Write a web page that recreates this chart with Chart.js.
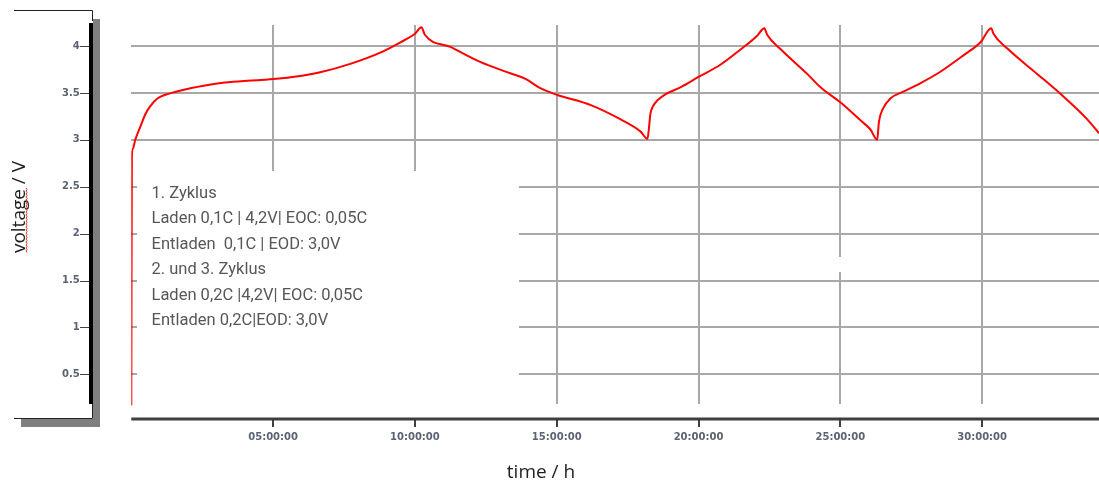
<!DOCTYPE html>
<html>
<head>
<meta charset="utf-8">
<script src="https://cdn.jsdelivr.net/npm/chart.js@4.4.1/dist/chart.umd.min.js"></script>
<style>
  html, body { margin: 0; padding: 0; background: #ffffff; }
  #wrap { width: 1099px; height: 481px; }
</style>
</head>
<body>
<div id="wrap"><canvas id="c" width="1099" height="481"></canvas></div>
<script>
// ---- data (time in hours, voltage in V) ----
const timeH = [
  0, 0.02, 0.06, 0.14, 0.32, 0.49, 0.67, 0.92, 1.2, 1.55, 2.08, 2.6, 3.3, 4.1, 4.9, 5.96, 6.66, 7.72, 8.78, 9.49, 10.0, 10.23,
  10.35, 11.25, 12.3, 13.36, 13.9, 14.42, 15.0, 16.2, 17.24, 17.95, 18.2,
  18.25, 18.3, 18.4, 18.55, 18.8, 19.36, 20.0, 20.77, 21.47, 22.07, 22.32,
  22.42, 22.88, 23.84, 24.3, 25.0, 25.7, 26.06, 26.3,
  26.36, 26.5, 26.76, 27.2, 27.8, 28.5, 29.34, 29.94, 30.32,
  30.4, 30.9, 31.95, 32.76, 33.7, 34.12
];
const voltage = [
  0.17, 2.82, 2.91, 3.0, 3.14, 3.27, 3.36, 3.44, 3.48, 3.51, 3.55, 3.58, 3.61, 3.63, 3.645, 3.68, 3.72, 3.81, 3.93, 4.04, 4.13, 4.20,
  4.12, 3.99, 3.83, 3.71, 3.65, 3.55, 3.48, 3.37, 3.22, 3.09, 3.01,
  3.12, 3.27, 3.36, 3.42, 3.48, 3.56, 3.67, 3.80, 3.96, 4.11, 4.19,
  4.12, 3.97, 3.70, 3.56, 3.40, 3.21, 3.11, 3.00,
  3.19, 3.33, 3.44, 3.51, 3.60, 3.72, 3.90, 4.04, 4.19,
  4.13, 3.97, 3.70, 3.49, 3.22, 3.07
];
const xTickValues = [5, 10, 15, 20, 25, 30];
const xTickLabels = ['05:00:00', '10:00:00', '15:00:00', '20:00:00', '25:00:00', '30:00:00'];
const yTickValues = [0.5, 1, 1.5, 2, 2.5, 3, 3.5, 4];
const yTickLabels = ['0.5', '1', '1.5', '2', '2.5', '3', '3.5', '4'];
const xTitle = 'time / h';
const yTitle = 'voltage / V';
const noteLines = [
  '1. Zyklus',
  'Laden 0,1C | 4,2V| EOC: 0,05C',
  'Entladen  0,1C | EOD: 3,0V',
  '2. und 3. Zyklus',
  'Laden 0,2C |4,2V| EOC: 0,05C',
  'Entladen 0,2C|EOD: 3,0V'
];

const points = timeH.map((t, i) => ({ x: t, y: voltage[i] }));

const deco = {
  id: 'deco',
  beforeDatasetsDraw(chart) {
    const ctx = chart.ctx, a = chart.chartArea;
    ctx.save();
    ctx.fillStyle = '#ffffff';
    // gap between vertical grid lines and x axis
    ctx.fillRect(a.left, 404, a.right - a.left, a.bottom - 404 + 2);
    // annotation box
    ctx.fillRect(137, 171, 519 - 137, 404 - 171);
    // small gap in 25h grid line
    ctx.fillRect(836, 257, 8, 15);
    ctx.restore();
  },
  afterDraw(chart) {
    const ctx = chart.ctx, a = chart.chartArea;
    const xs = chart.scales.x, ys = chart.scales.y;
    ctx.save();
    // x axis line
    ctx.strokeStyle = '#3e3e3e';
    ctx.lineWidth = 3;
    ctx.beginPath(); ctx.moveTo(a.left, 419); ctx.lineTo(a.right, 419); ctx.stroke();
    ctx.lineWidth = 2;
    xTickValues.forEach(v => {
      const px = Math.round(xs.getPixelForValue(v));
      ctx.beginPath(); ctx.moveTo(px, 419); ctx.lineTo(px, 427); ctx.stroke();
    });
    // y axis shadow
    ctx.fillStyle = '#7f7f7f';
    ctx.fillRect(93, 19, 7, 408);
    ctx.fillRect(21, 419, 79, 8);
    // y axis black line
    ctx.fillStyle = '#000000';
    ctx.fillRect(89, 23, 4, 381);
    // thin frame lines
    ctx.strokeStyle = '#222222';
    ctx.lineWidth = 1;
    ctx.beginPath(); ctx.moveTo(14, 10.5); ctx.lineTo(92.5, 10.5); ctx.lineTo(92.5, 21); ctx.stroke();
    ctx.beginPath(); ctx.moveTo(92.5, 404); ctx.lineTo(92.5, 418.5); ctx.lineTo(14, 418.5); ctx.stroke();
    // y tick marks
    ctx.strokeStyle = '#444444';
    yTickValues.forEach(v => {
      const py = Math.round(ys.getPixelForValue(v)) + 0.5;
      ctx.beginPath(); ctx.moveTo(80, py); ctx.lineTo(89, py); ctx.stroke();
    });
    // annotation text
    ctx.fillStyle = '#575757';
    ctx.font = '16.5px Roboto';
    ctx.textAlign = 'left';
    ctx.textBaseline = 'middle';
    noteLines.forEach((s, i) => ctx.fillText(s, 151.5, 193.5 + i * 25.5));
    // axis titles
    ctx.fillStyle = '#1e1e1e';
    ctx.font = '19px "Open Sans"';
    ctx.textAlign = 'center';
    ctx.textBaseline = 'alphabetic';
    ctx.fillText(xTitle, 541, 478);
    ctx.save();
    ctx.translate(25, 207);
    ctx.rotate(-Math.PI / 2);
    ctx.fillText(yTitle, 0, 0);
    ctx.restore();
    // spell-check squiggle
    ctx.strokeStyle = '#e03030';
    ctx.lineWidth = 1;
    ctx.beginPath();
    for (let y = 188; y <= 253; y += 1.5) {
      const x = 26 + ((Math.round((y - 188) / 1.5) % 2) ? 1 : 0);
      if (y === 188) ctx.moveTo(x, y); else ctx.lineTo(x, y);
    }
    ctx.stroke();
    ctx.restore();
  }
};

new Chart(document.getElementById('c'), {
  type: 'line',
  data: {
    datasets: [{
      data: points,
      borderColor: '#ff0000',
      borderWidth: 2,
      pointRadius: 0,
      cubicInterpolationMode: 'monotone',
      fill: false
    }]
  },
  options: {
    responsive: false,
    animation: false,
    devicePixelRatio: 1,
    layout: { padding: { top: 25, left: 0, right: 0, bottom: 0 } },
    plugins: { legend: { display: false }, tooltip: { enabled: false } },
    scales: {
      x: {
        type: 'linear',
        min: 0,
        max: 34.12,
        afterBuildTicks: s => { s.ticks = xTickValues.map(v => ({ value: v })); },
        afterFit: s => { s.height = 481 - 421.2; s.paddingLeft = 0; s.paddingRight = 0; },
        ticks: {
          callback: (v, i) => xTickLabels[i],
          font: { family: 'DejaVu Sans', weight: 'bold', size: 10 },
          color: '#5b6373',
          padding: 0,
          maxRotation: 0,
          autoSkip: false
        },
        grid: { color: '#a8a8a8', lineWidth: 2, drawTicks: true, tickLength: 10, tickColor: 'rgba(0,0,0,0)' },
        border: { display: false }
      },
      y: {
        type: 'linear',
        min: 0,
        max: 4.224,
        afterBuildTicks: s => { s.ticks = yTickValues.map(v => ({ value: v })); },
        afterFit: s => { s.width = 131.3; s.paddingTop = 0; s.paddingBottom = 0; },
        ticks: {
          callback: (v, i) => yTickLabels[i],
          font: { family: 'DejaVu Sans', weight: 'bold', size: 10 },
          color: '#5b6373',
          padding: 0,
          autoSkip: false
        },
        grid: { color: '#a8a8a8', lineWidth: 2, drawTicks: true, tickLength: 51.5, tickColor: 'rgba(0,0,0,0)' },
        border: { display: false }
      }
    }
  },
  plugins: [deco]
});
</script>
</body>
</html>
